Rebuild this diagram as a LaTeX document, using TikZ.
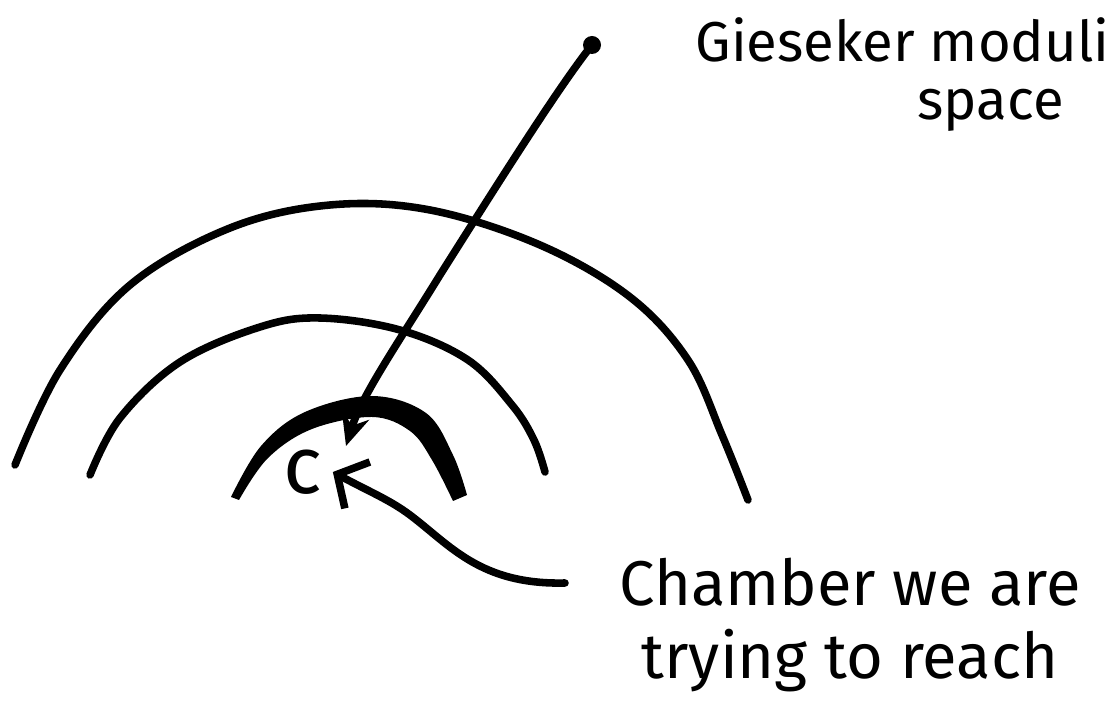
\documentclass[tikz,border=0pt]{standalone}
\usepackage{fontspec}
\setmainfont{Fira Sans}
\usetikzlibrary{arrows.meta,positioning}
\tikzset{
    pen/.style={line width=4.3pt, line cap=round, line join=round},
    handtext/.style={font=\fontsize{32}{38}\selectfont, inner sep=0pt},
}
\begin{document}
\begin{tikzpicture}[x=0.02cm, y=-0.02cm]
    \useasboundingbox (0,0) rectangle (1120,709);

    % outer arc
    \draw[pen] plot[smooth, tension=0.6] coordinates {(15,465) (60,370) (130,285) (230,228) (330,205) (430,210) (540,245) (630,297) (688,360) (722,435) (748,500)};

    % middle arc
    \draw[pen] plot[smooth, tension=0.6] coordinates {(90,475) (120,418) (180,362) (260,327) (320,318) (400,330) (468,360) (512,405) (534,440) (545,472)};

    % inner chamber wall (thick)
    \fill[line join=round] plot[smooth, tension=0.6] coordinates {(231,497) (261,446) (305,412) (372,396) (426,413) (453,455) (467,495)}
        -- plot[smooth, tension=0.6] coordinates {(453,501) (432,460) (410,431) (372,417) (312,429) (268,458) (239,500)} -- cycle;

    % point and chamber label
    \coordinate (gpt) at (592,45);
    \fill (gpt) circle (9);
    \node[handtext, font=\fontsize{46}{50}\selectfont, outer sep=6pt] (c) at (303,472) {c};
    \coordinate (wall) at (346,446);

    \draw[pen, -{Stealth[length=18pt, width=16pt]}] (gpt) .. controls (560,85) and (500,180) .. (440,275)
        .. controls (400,340) and (362,395) .. (wall);

    % texts
    \node[handtext, anchor=base east] (gieseker) at (1110,62) {Gieseker moduli};
    \node[handtext, anchor=base east] (space) at (1064,120) {space};
    \node[handtext, font=\fontsize{36}{40}\selectfont, align=center] (chamber) at (850,625) {Chamber we are\\[2pt]trying to reach};

    \coordinate (tail) at (565,583);
    \draw[pen, -{Straight Barb[length=13pt, width=30pt]}] (tail) .. controls (480,585) and (450,545) .. (410,515)
        .. controls (390,500) and (370,492) .. (c.east);
\end{tikzpicture}
\end{document}
